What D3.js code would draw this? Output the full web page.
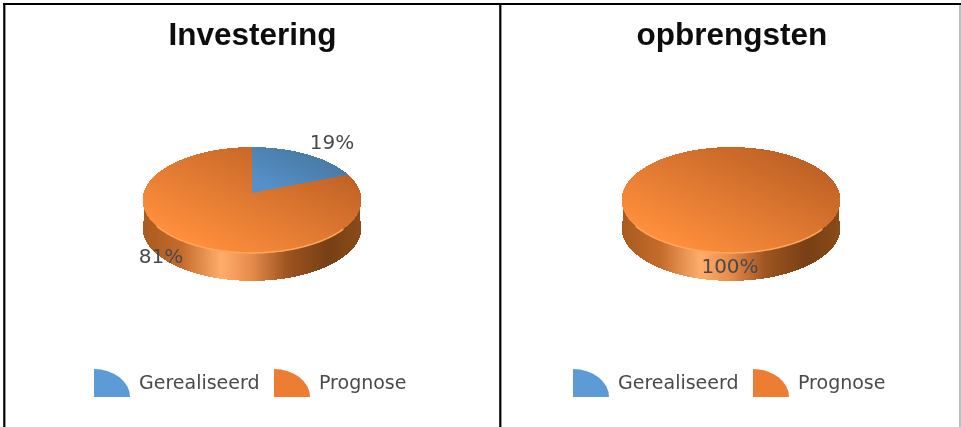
<!DOCTYPE html>
<html>
<head>
<meta charset="utf-8">
<script src="https://cdn.jsdelivr.net/npm/d3@7"></script>
<style>
  html, body { margin: 0; padding: 0; background: #fff; overflow: hidden; }
  .title { font-family: "Liberation Sans", Arial, sans-serif; font-weight: bold; font-size: 31.5px; fill: #111; text-anchor: middle; }
  .label { font-family: "DejaVu Sans", sans-serif; font-size: 19px; fill: #4a4a4a; }
  .pct { font-size: 20px; }
</style>
</head>
<body>
<div id="chart"></div>
<script>
const categories = ["Gerealiseerd", "Prognose"];
const chartTitles = ["Investering", "opbrengsten"];
const investeringValues = [19, 81];
const opbrengstenValues = [0, 100];

const width = 961, height = 427;

const svg = d3.select("#chart").append("svg")
    .attr("width", width)
    .attr("height", height)
    .style("display", "block");

const defs = svg.append("defs");

// the reference is a slightly soft upscaled screenshot
defs.append("filter").attr("id", "soft")
    .attr("filterUnits", "userSpaceOnUse")
    .attr("x", 0).attr("y", 0).attr("width", width).attr("height", height)
    .append("feGaussianBlur").attr("stdDeviation", 0.45);

const root = svg.append("g").attr("filter", "url(#soft)");

// top face gradients run from the lit front-left to the darker back-right
function faceGradient(id, from, to) {
    const g = defs.append("linearGradient").attr("id", id)
        .attr("x1", "15%").attr("y1", "85%").attr("x2", "85%").attr("y2", "15%");
    g.append("stop").attr("offset", "0%").attr("stop-color", from);
    g.append("stop").attr("offset", "100%").attr("stop-color", to);
}
faceGradient("faceOrange", "#ff8f3c", "#bf6226");
faceGradient("faceBlue", "#5590c8", "#47779f");

const sideGradient = defs.append("linearGradient").attr("id", "sideOrange");
[[0, "#a85a20"], [0.18, "#c56c2c"], [0.36, "#ffad6c"], [0.5, "#e68a4a"], [0.66, "#9d5421"], [0.85, "#783f14"], [1, "#8a4c1b"]]
    .forEach(s => sideGradient.append("stop").attr("offset", s[0]).attr("stop-color", s[1]));

const colors = d3.scaleOrdinal().domain(categories).range(["url(#faceBlue)", "url(#faceOrange)"]);
const legendColors = d3.scaleOrdinal().domain(categories).range(["#5b9bd5", "#ed7d31"]);

const pie = d3.pie().sort(null);

// tilted disc seen in perspective: the far half is squeezed, the centre sits above the ellipse middle
const rx = 108.5, ry = 52, persp = 0.132, depth = 28;
function project(cx, cy, a) {
    const u = Math.sin(a), v = Math.cos(a), w = 1 + persp * v;
    return [cx + rx * u / w, cy - ry * v / w];
}
function arcPoints(cx, cy, a0, a1) {
    return d3.range(0, 121).map(i => project(cx, cy, a0 + (a1 - a0) * i / 120));
}
const line = d3.line();

function drawPie(cx, cy, titleX, titleText, values, labelPos) {
    const g = root.append("g");

    g.append("text").attr("class", "title").attr("x", titleX).attr("y", 44.5).text(titleText);

    // side wall
    const rim = arcPoints(cx, cy, Math.PI * 0.5 - 0.05, Math.PI * 1.5 + 0.05);
    const wall = rim.concat(rim.slice().reverse().map(p => [p[0], p[1] + depth]));
    g.append("path")
        .attr("d", line(wall) + "Z")
        .attr("fill", "url(#sideOrange)")
        .attr("shape-rendering", "crispEdges");

    // top face, one wedge per value
    pie(values).filter(d => d.value > 0).forEach(d => {
        const outer = arcPoints(cx, cy, d.startAngle, d.endAngle);
        const pts = d.endAngle - d.startAngle >= 2 * Math.PI ? outer : [[cx, cy]].concat(outer);
        g.append("path")
            .attr("d", line(pts) + "Z")
            .attr("fill", colors(categories[d.index]))
            .attr("shape-rendering", "crispEdges");
    });

    // lit edge along the front of the disc
    g.append("path")
        .attr("d", line(arcPoints(cx, cy, Math.PI * 0.72, Math.PI * 1.3)))
        .attr("fill", "none")
        .attr("stroke", "#ffa85c")
        .attr("stroke-width", 1.5);

    // value labels
    pie(values).filter(d => d.value > 0).forEach(d => {
        g.append("text").attr("class", "label pct")
            .attr("x", labelPos[d.index][0])
            .attr("y", labelPos[d.index][1])
            .attr("text-anchor", "middle")
            .text(d.value + "%");
    });

    // legend, swatch is a quarter of a pie
    const swatch = d3.arc().innerRadius(0).outerRadius(1).startAngle(0).endAngle(Math.PI / 2);
    const legendX = [cx - 158, cx + 22];
    categories.forEach((c, i) => {
        g.append("path")
            .attr("transform", `translate(${legendX[i]},397) scale(36,28)`)
            .attr("d", swatch())
            .attr("fill", legendColors(c));
        g.append("text").attr("class", "label")
            .attr("x", legendX[i] + 45)
            .attr("y", 389)
            .text(c);
    });
}

drawPie(252, 193, 252.5, chartTitles[0], investeringValues, [[332, 149], [161, 263]]);
drawPie(731, 193, 732, chartTitles[1], opbrengstenValues, [[0, 0], [730, 273]]);

// panel frame
[[3, 4, 961, 4, 2.2, "#000"], [4.3, 3, 4.3, 427, 2.2, "#000"], [500.3, 3, 500.3, 427, 2.2, "#000"], [960, 5, 960, 427, 1.5, "#aaa"]].forEach(l => {
    root.append("line")
        .attr("x1", l[0]).attr("y1", l[1]).attr("x2", l[2]).attr("y2", l[3])
        .attr("stroke", l[5])
        .attr("stroke-width", l[4]);
});
</script>
</body>
</html>
